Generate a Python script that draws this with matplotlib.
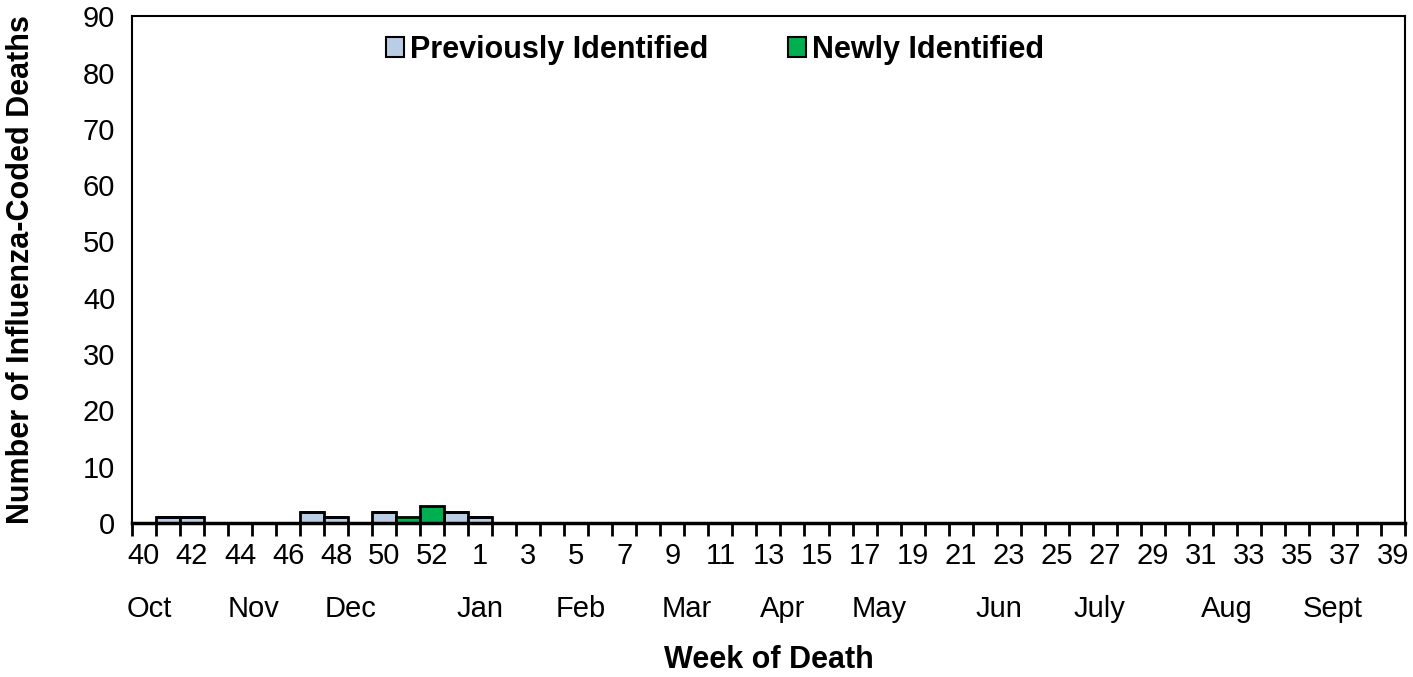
import numpy as np
import matplotlib
matplotlib.use("Agg")
import matplotlib.pyplot as plt
from matplotlib.patches import Patch
from matplotlib.transforms import blended_transform_factory

plt.rcParams['font.family'] = ['Liberation Sans', 'DejaVu Sans']

# season weeks 40..53 then 1..39
weeks = list(range(40, 54)) + list(range(1, 40))
previously = np.zeros(len(weeks))
newly = np.zeros(len(weeks))
prev_vals = {41: 1, 42: 1, 47: 2, 48: 1, 50: 2, 53: 2, 1: 1}
new_vals = {51: 1, 52: 3}
for w, v in prev_vals.items():
    previously[weeks.index(w)] = v
for w, v in new_vals.items():
    newly[weeks.index(w)] = v

months = ["Oct", "Nov", "Dec", "Jan", "Feb", "Mar", "Apr", "May", "Jun", "July", "Aug", "Sept"]
month_pos = [0.24, 4.55, 8.6, 14.0, 18.2, 22.6, 26.6, 30.6, 35.6, 39.8, 45.1, 49.5]

prev_color = "#B9CDE5"
new_color = "#00B050"

fig = plt.figure(figsize=(14.13, 6.77), dpi=100)
ax = fig.add_axes([0.0934, 0.2275, 0.9009, 0.7485])

x = np.arange(len(weeks))
ax.bar(x, previously, width=1.0, color=prev_color, edgecolor="black", linewidth=2)
ax.bar(x, newly, bottom=previously, width=1.0, color=new_color, edgecolor="black", linewidth=2)

ax.set_xlim(-0.5, len(weeks) - 0.5)
ax.set_ylim(0, 90)
ax.set_yticks(np.arange(0, 91, 10))
ax.tick_params(axis='y', length=0, labelsize=21, pad=12)

# labels every other week, tick marks at week boundaries
ax.set_xticks(x[::2])
ax.set_xticklabels([str(w) for w in weeks[::2]])
ax.set_xticks(np.arange(-0.5, len(weeks), 1.0), minor=True)
ax.tick_params(axis='x', which='major', length=0, labelsize=21, pad=14)
ax.tick_params(axis='x', which='minor', length=9, width=2, direction='out')

for s in ax.spines.values():
    s.set_linewidth(1.5)
ax.spines['bottom'].set_linewidth(2.5)

trans = blended_transform_factory(ax.transData, ax.transAxes)
for m, p in zip(months, month_pos):
    ax.text(p, -0.17, m, transform=trans, ha='center', va='center', fontsize=21)

ax.set_xlabel("Week of Death", fontsize=22, fontweight='bold', labelpad=54)
ax.set_ylabel("Number of Influenza-Coded Deaths", fontsize=22, fontweight='bold', labelpad=34)

handles = [Patch(facecolor=prev_color, edgecolor="black", linewidth=1.5, label="Previously Identified"),
           Patch(facecolor=new_color, edgecolor="black", linewidth=1.5, label="Newly Identified")]
ax.legend(handles=handles, loc='upper center', bbox_to_anchor=(0.458, 1.018), ncol=2, frameon=False,
          prop={'size': 22, 'weight': 'bold'}, handlelength=0.6, handleheight=0.6,
          handletextpad=0.2, columnspacing=2.6)

fig.savefig("out.png", dpi=100)
